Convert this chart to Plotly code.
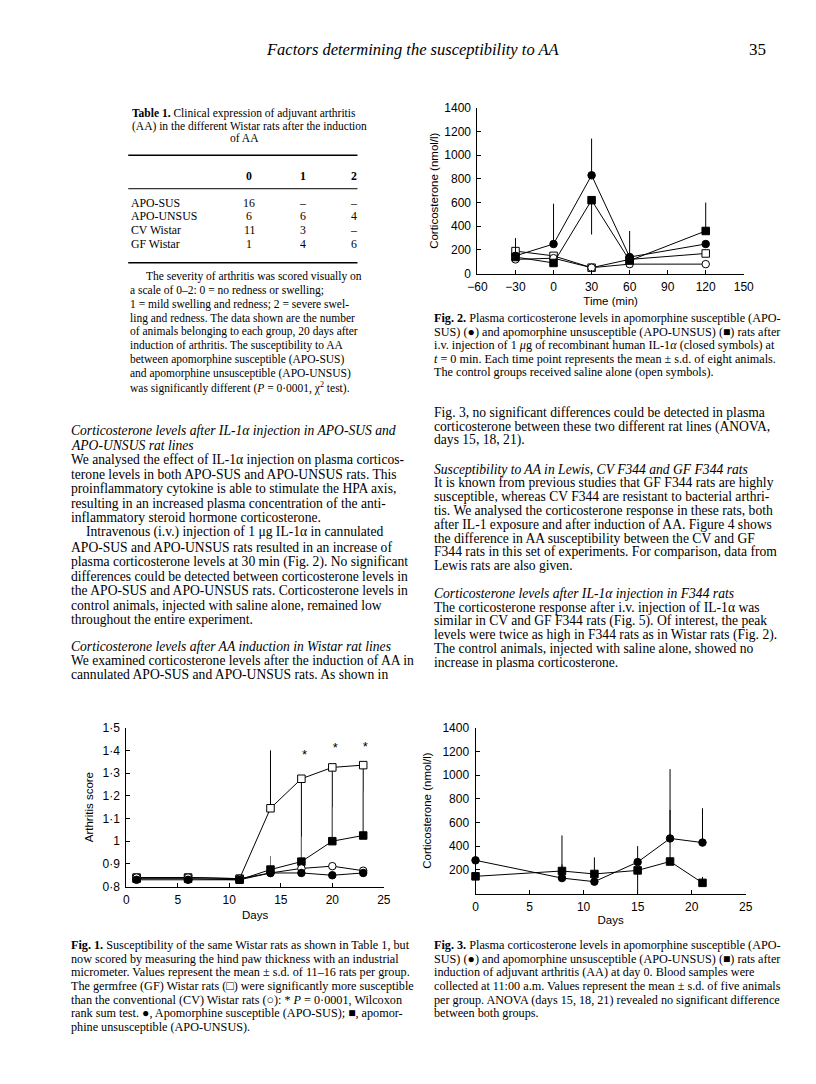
import plotly.graph_objects as go

W, H = 816, 1084

# ---------------- data ----------------
# Fig. 1  (arthritis score vs days)
fig1_days = [1, 6, 11, 14, 17, 20, 23]
fig1_gf = [0.84, 0.84, 0.835, 1.145, 1.275, 1.325, 1.335]          # open squares
fig1_gf_err_up = [0, 0, 0, 0.255, 0, 0, 0]
fig1_gf_err_down = [0, 0, 0, 0, 0.355, 0.325, 0.305]
fig1_unsus = [0.835, 0.835, 0.83, 0.875, 0.91, 1.0, 1.025]           # filled squares
fig1_unsus_err_up = [0, 0, 0, 0.06, 0.11, 0.15, 0.195]
fig1_cv = [0.84, 0.84, 0.835, 0.86, 0.88, 0.89, 0.87]                # open circles
fig1_sus = [0.83, 0.83, 0.83, 0.86, 0.86, 0.85, 0.86]                # filled circles
fig1_star_x = [17.3, 20.3, 23.2]
fig1_star_y = [1.375, 1.405, 1.41]
fig1_yticks = [0.8, 0.9, 1.0, 1.1, 1.2, 1.3, 1.4, 1.5]
fig1_yticktext = ["0·8", "0·9", "1", "1·1", "1·2", "1·3", "1·4", "1·5"]
fig1_xticks = [0, 5, 10, 15, 20, 25]

# Fig. 2  (corticosterone after IL-1a)
fig2_time = [-30, 0, 30, 60, 120]
fig2_sus_il1 = [150, 250, 830, 140, 250]
fig2_sus_il1_err = [150, 340, 310, 220, 0]
fig2_unsus_il1 = [140, 90, 620, 110, 360]
fig2_unsus_il1_err_up = [0, 0, 0, 0, 240]
fig2_unsus_il1_err_down = [0, 0, 290, 0, 0]
fig2_unsus_saline = [190, 150, 50, 120, 170]
fig2_sus_saline = [120, 130, 50, 80, 80]
fig2_xticks = [-60, -30, 0, 30, 60, 90, 120, 150]
fig2_yticks = [0, 200, 400, 600, 800, 1000, 1200, 1400]

# Fig. 3  (corticosterone after AA induction)
fig3_days = [0, 8, 11, 15, 18, 21]
fig3_sus = [280, 130, 100, 265, 465, 430]
fig3_sus_err = [0, 360, 0, 135, 585, 290]
fig3_unsus = [145, 190, 165, 195, 270, 90]
fig3_unsus_err_up = [0, 55, 140, 0, 435, 50]
fig3_unsus_err_down = [0, 0, 0, 195, 0, 0]
fig3_xticks = [0, 5, 10, 15, 20, 25]
fig3_yticks = [200, 400, 600, 800, 1000, 1200, 1400]

# Table 1
table_cols = ["0", "1", "2"]
table_rows = ["APO-SUS", "APO-UNSUS", "CV Wistar", "GF Wistar"]
table_vals = [["16", "–", "–"], ["6", "6", "4"], ["11", "3", "–"], ["1", "4", "6"]]


# ---------------- helpers ----------------
def px(x):
    return x / W


def py(y):
    return 1 - y / H


SANS = "Liberation Sans"
SERIF = "Liberation Serif"
BODY = 13.6
CAP = 12.2


def axis(dom, rng, tickvals, ticktext=None, title=None, standoff=5, anchor=None, labelgap=None):
    d = dict(
        domain=dom, range=rng, showline=True, linecolor="black", linewidth=1,
        ticks="inside", ticklen=4, tickcolor="black", tickwidth=1,
        tickvals=tickvals, showgrid=False, zeroline=False,
        tickfont=dict(family=SANS, size=12, color="black"),
        title=dict(text=title, font=dict(family=SANS, size=11.5, color="black"), standoff=standoff),
        anchor=anchor, mirror=False,
    )
    if ticktext is not None:
        d["ticktext"] = ticktext
    if labelgap is not None:
        d["ticklabelstandoff"] = labelgap
    return d


fig = go.Figure()

mk_fill = dict(color="black", size=7.5, line=dict(color="black", width=1))
mk_open = dict(color="white", size=7.5, line=dict(color="black", width=1))
ln = dict(color="black", width=1)


def err(up, down=None, color="black"):
    return dict(type="data", array=up, symmetric=False,
                arrayminus=down if down is not None else [0] * len(up),
                thickness=1, width=0, color=color, visible=True)


# ----- Fig 1 -----
fig.add_trace(go.Scatter(x=fig1_days, y=fig1_gf, mode="lines+markers", line=ln,
                         marker=dict(symbol="square", **mk_open),
                         error_y=err(fig1_gf_err_up, fig1_gf_err_down), xaxis="x", yaxis="y", cliponaxis=False))
fig.add_trace(go.Scatter(x=fig1_days, y=fig1_unsus, mode="lines+markers", line=ln,
                         marker=dict(symbol="square", **mk_fill),
                         error_y=err(fig1_unsus_err_up, color="#777"), xaxis="x", yaxis="y", cliponaxis=False))
fig.add_trace(go.Scatter(x=fig1_days, y=fig1_cv, mode="lines+markers", line=ln,
                         marker=dict(symbol="circle", **mk_open), xaxis="x", yaxis="y", cliponaxis=False))
fig.add_trace(go.Scatter(x=fig1_days, y=fig1_sus, mode="lines+markers", line=ln,
                         marker=dict(symbol="circle", **mk_fill), xaxis="x", yaxis="y", cliponaxis=False))
fig.add_trace(go.Scatter(x=fig1_star_x, y=fig1_star_y, mode="text", text=["*"] * 3,
                         textfont=dict(family=SANS, size=13, color="black"), xaxis="x", yaxis="y"))

# ----- Fig 2 -----
fig.add_trace(go.Scatter(x=fig2_time, y=fig2_unsus_saline, mode="lines+markers", line=ln,
                         marker=dict(symbol="square", **mk_open), xaxis="x2", yaxis="y2", cliponaxis=False))
fig.add_trace(go.Scatter(x=fig2_time, y=fig2_sus_saline, mode="lines+markers", line=ln,
                         marker=dict(symbol="circle", **mk_open), xaxis="x2", yaxis="y2", cliponaxis=False))
fig.add_trace(go.Scatter(x=fig2_time, y=fig2_unsus_il1, mode="lines+markers", line=ln,
                         marker=dict(symbol="square", **mk_fill),
                         error_y=err(fig2_unsus_il1_err_up, fig2_unsus_il1_err_down), xaxis="x2", yaxis="y2", cliponaxis=False))
fig.add_trace(go.Scatter(x=fig2_time, y=fig2_sus_il1, mode="lines+markers", line=ln,
                         marker=dict(symbol="circle", **mk_fill),
                         error_y=err(fig2_sus_il1_err), xaxis="x2", yaxis="y2", cliponaxis=False))

# ----- Fig 3 -----
fig.add_trace(go.Scatter(x=fig3_days, y=fig3_sus, mode="lines+markers", line=ln,
                         marker=dict(symbol="circle", **mk_fill),
                         error_y=err(fig3_sus_err), xaxis="x3", yaxis="y3", cliponaxis=False))
fig.add_trace(go.Scatter(x=fig3_days, y=fig3_unsus, mode="lines+markers", line=ln,
                         marker=dict(symbol="square", **mk_fill),
                         error_y=err(fig3_unsus_err_up, fig3_unsus_err_down), xaxis="x3", yaxis="y3", cliponaxis=False))

fig.update_layout(
    width=W, height=H, margin=dict(l=0, r=0, t=0, b=0),
    paper_bgcolor="white", plot_bgcolor="white", showlegend=False,
    xaxis=axis([px(111), px(375)], [0, 25], fig1_xticks, title="Days", standoff=4, anchor="y", labelgap=2),
    yaxis=axis([py(883), py(722)], [0.8, 1.5], fig1_yticks, fig1_yticktext, title="Arthritis score", standoff=6, anchor="x", labelgap=3),
    xaxis2=axis([px(471), px(744)], [-60, 150], fig2_xticks, title="Time (min)", standoff=3, anchor="y2", labelgap=2),
    yaxis2=axis([py(262), py(94)], [0, 1400], fig2_yticks, title="Corticosterone (nmol/l)", standoff=3, anchor="x2", labelgap=3),
    xaxis3=axis([px(469), px(746)], [0, 25], fig3_xticks, title="Days", standoff=3, anchor="y3", labelgap=2),
    yaxis3=axis([py(890), py(722)], [0, 1400], fig3_yticks, title="Corticosterone (nmol/l)", standoff=8, anchor="x3", labelgap=3),
)

ann = []


def text(x, y, s, size=BODY, anchor="left", family=SERIF):
    ann.append(dict(x=px(x), y=py(y), xref="paper", yref="paper", text=s, showarrow=False,
                    xanchor=anchor, yanchor="middle", font=dict(family=family, size=size, color="black")))


def block(x, y0, step, lines, size=BODY):
    for i, s in enumerate(lines):
        indent = 0
        if s.startswith("\t"):
            indent = 16
            s = s[1:]
        text(x + indent, y0 + i * step, s, size)


# header
text(405, 35, "<i>Factors determining the susceptibility to AA</i>", 16.5, "center")
text(769, 35, "35", 17, "right")

# Table 1 caption
text(115, 100, "<b>Table 1.</b> Clinical expression of adjuvant arthritis", 11.5)
text(115, 113, "(AA) in the different Wistar rats after the induction", 11.5)
text(232, 125, "of AA", 11.5, "center")

# table body
col_x = [237, 292, 344]
for c, cx in zip(table_cols, col_x):
    text(cx, 163, "<b>%s</b>" % c, 11.8, "center")
for r, (name, vals) in enumerate(zip(table_rows, table_vals)):
    yy = 190 + r * 14
    text(114, yy, name, 11.8)
    for v, cx in zip(vals, col_x):
        text(cx, yy, v, 11.8, "center")

shapes = [
    dict(type="line", xref="paper", yref="paper", x0=px(113), x1=px(348), y0=py(142), y1=py(142), line=dict(color="black", width=1.5)),
    dict(type="line", xref="paper", yref="paper", x0=px(113), x1=px(348), y0=py(176), y1=py(176), line=dict(color="black", width=1)),
    dict(type="line", xref="paper", yref="paper", x0=px(113), x1=px(348), y0=py(251), y1=py(251), line=dict(color="black", width=1.5)),
]

block(113, 265, 14, [
    "\tThe severity of arthritis was scored visually on",
    "a scale of 0–2: 0 = no redness or swelling;",
    "1 = mild swelling and redness; 2 = severe swel-",
    "ling and redness. The data shown are the number",
    "of animals belonging to each group, 20 days after",
    "induction of arthritis. The susceptibility to AA",
    "between apomorphine susceptible (APO-SUS)",
    "and apomorphine unsusceptible (APO-UNSUS)",
    "was significantly different (<i>P</i> = 0·0001, χ<sup>2</sup> test).",
], 11.5)

# left column body
block(52, 421, 14.75, [
    "<i>Corticosterone levels after IL-1α injection in APO-SUS and</i>",
    "<i>APO-UNSUS rat lines</i>",
    "We analysed the effect of IL-1α injection on plasma corticos-",
    "terone levels in both APO-SUS and APO-UNSUS rats. This",
    "proinflammatory cytokine is able to stimulate the HPA axis,",
    "resulting in an increased plasma concentration of the anti-",
    "inflammatory steroid hormone corticosterone.",
    "\tIntravenous (i.v.) injection of 1 μg IL-1α in cannulated",
    "APO-SUS and APO-UNSUS rats resulted in an increase of",
    "plasma corticosterone levels at 30 min (Fig. 2). No significant",
    "differences could be detected between corticosterone levels in",
    "the APO-SUS and APO-UNSUS rats. Corticosterone levels in",
    "control animals, injected with saline alone, remained low",
    "throughout the entire experiment.",
])
block(52, 640, 14, [
    "<i>Corticosterone levels after AA induction in Wistar rat lines</i>",
    "We examined corticosterone levels after the induction of AA in",
    "cannulated APO-SUS and APO-UNSUS rats. As shown in",
])

# Fig 2 caption
block(424, 307, 13.7, [
    "<b>Fig. 2.</b> Plasma corticosterone levels in apomorphine susceptible (APO-",
    "SUS) (●) and apomorphine unsusceptible (APO-UNSUS) (■) rats after",
    "i.v. injection of 1 <i>μ</i>g of recombinant human IL-1<i>α</i> (closed symbols) at",
    "<i>t</i> = 0 min. Each time point represents the mean ± s.d. of eight animals.",
    "The control groups received saline alone (open symbols).",
], CAP)

# right column body
block(424, 403, 14, [
    "Fig. 3, no significant differences could be detected in plasma",
    "corticosterone between these two different rat lines (ANOVA,",
    "days 15, 18, 21).",
])
block(424, 460, 14, [
    "<i>Susceptibility to AA in Lewis, CV F344 and GF F344 rats</i>",
    "It is known from previous studies that GF F344 rats are highly",
    "susceptible, whereas CV F344 are resistant to bacterial arthri-",
    "tis. We analysed the corticosterone response in these rats, both",
    "after IL-1 exposure and after induction of AA. Figure 4 shows",
    "the difference in AA susceptibility between the CV and GF",
    "F344 rats in this set of experiments. For comparison, data from",
    "Lewis rats are also given.",
])
block(424, 586, 14, [
    "<i>Corticosterone levels after IL-1α injection in F344 rats</i>",
    "The corticosterone response after i.v. injection of IL-1α was",
    "similar in CV and GF F344 rats (Fig. 5). Of interest, the peak",
    "levels were twice as high in F344 rats as in Wistar rats (Fig. 2).",
    "The control animals, injected with saline alone, showed no",
    "increase in plasma corticosterone.",
])

# Fig 1 caption
block(52, 942, 13.9, [
    "<b>Fig. 1.</b> Susceptibility of the same Wistar rats as shown in Table 1, but",
    "now scored by measuring the hind paw thickness with an industrial",
    "micrometer. Values represent the mean ± s.d. of 11–16 rats per group.",
    "The germfree (GF) Wistar rats (□) were significantly more susceptible",
    "than the conventional (CV) Wistar rats (○): * <i>P</i> = 0·0001, Wilcoxon",
    "rank sum test. ●, Apomorphine susceptible (APO-SUS); ■, apomor-",
    "phine unsusceptible (APO-UNSUS).",
], CAP)

# Fig 3 caption
block(424, 942, 13.9, [
    "<b>Fig. 3.</b> Plasma corticosterone levels in apomorphine susceptible (APO-",
    "SUS) (●) and apomorphine unsusceptible (APO-UNSUS) (■) rats after",
    "induction of adjuvant arthritis (AA) at day 0. Blood samples were",
    "collected at 11:00 a.m. Values represent the mean ± s.d. of five animals",
    "per group. ANOVA (days 15, 18, 21) revealed no significant difference",
    "between both groups.",
], CAP)

fig.update_layout(annotations=ann, shapes=shapes)
fig.write_html("out.html")
